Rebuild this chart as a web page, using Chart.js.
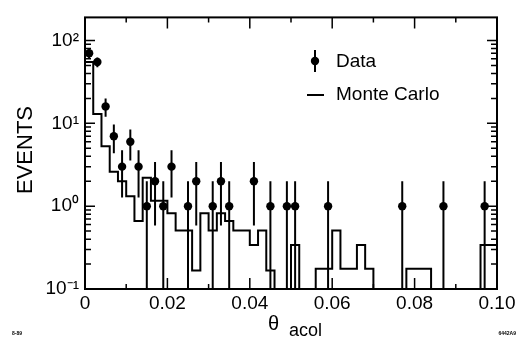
<!DOCTYPE html>
<html lang="en">
<head>
<meta charset="UTF-8" />
<title>Acollinearity distribution</title>
<script src="https://cdn.jsdelivr.net/npm/chart.js@4.4.0/dist/chart.umd.min.js"></script>
<style>
  html, body { margin: 0; padding: 0; background: #fff; }
  #wrap { width: 527px; height: 349px; }
</style>
</head>
<body>
<div id="wrap"><canvas id="acolChart" width="527" height="349"></canvas></div>
<script>
// Monte Carlo histogram: low edge of each bin and its content (0 = empty bin)
const binStart = [
  0.000, 0.002, 0.004, 0.006, 0.008, 0.010, 0.012, 0.014, 0.016, 0.018,
  0.020, 0.022, 0.024, 0.026, 0.028, 0.030, 0.032, 0.034, 0.036, 0.038,
  0.040, 0.042, 0.044, 0.046, 0.048, 0.050, 0.052, 0.054, 0.056, 0.058,
  0.060, 0.062, 0.064, 0.066, 0.068, 0.070, 0.072, 0.074, 0.076, 0.078,
  0.080, 0.082, 0.084, 0.086, 0.088, 0.090, 0.092, 0.094, 0.096, 0.098
];
const binEnd = 0.100;
const mcEvents = [
  100, 55, 13, 5.3, 2.6, 2.0, 1.32, 0.66, 2.2, 1.16,
  1.16, 0.82, 0.51, 0.51, 0.167, 0.82, 0.51, 0.82, 0.66, 0.51,
  0.51, 0.34, 0.51, 0.167, 0, 0, 0.34, 0, 0, 0.176,
  0.176, 0.51, 0.176, 0.176, 0.34, 0.176, 0, 0, 0, 0,
  0.176, 0.176, 0.176, 0, 0, 0, 0, 0, 0, 0.34
];

// Data: bin centre and number of events (error = sqrt(N))
const dataX = [
  0.001, 0.003, 0.005, 0.007, 0.009, 0.011, 0.013, 0.015, 0.017, 0.019,
  0.021, 0.025, 0.027, 0.031, 0.033, 0.035, 0.041, 0.045, 0.049, 0.051,
  0.059, 0.077, 0.087, 0.097
];
const dataN = [
  70, 55, 16, 7, 3, 6, 3, 1, 2, 1,
  3, 1, 2, 1, 2, 1, 2, 1, 1, 1,
  1, 1, 1, 1
];

const xTickValues = [0, 0.02, 0.04, 0.06, 0.08, 0.10];
const xTickLabels = ['0', '0.02', '0.04', '0.06', '0.08', '0.10'];
const yTickValues = [0.1, 1, 10, 100];
const yTickLabels = ['10\u207B\u00B9', '10\u2070', '10\u00B9', '10\u00B2'];

const FONT = '"Liberation Sans", Arial, Helvetica, sans-serif';
const OFF_SCALE = 1e-4;   // empty bins / error bars reaching zero go below the axis

const mcPoints = binStart.map((x, i) => ({ x: x, y: mcEvents[i] > 0 ? mcEvents[i] : OFF_SCALE }));
mcPoints.push({ x: binEnd, y: mcPoints[mcPoints.length - 1].y });

const dataPoints = dataX.map((x, i) => ({ x: x, y: dataN[i] }));

const errPoints = [];
dataX.forEach((x, i) => {
  const n = dataN[i];
  const e = Math.sqrt(n);
  errPoints.push({ x: x, y: n - e > 0 ? n - e : OFF_SCALE });
  errPoints.push({ x: x, y: n + e });
  errPoints.push({ x: x, y: null });
});

// frame, inward ticks, legend and axis titles
const decorations = {
  id: 'decorations',
  afterDatasetsDraw(chart) {
    const { ctx, chartArea: a, scales: { x, y } } = chart;
    ctx.save();
    ctx.strokeStyle = '#000';
    ctx.fillStyle = '#000';

    ctx.lineWidth = 2;
    ctx.strokeRect(a.left, a.top, a.right - a.left, a.bottom - a.top);

    ctx.lineWidth = 1.5;
    ctx.beginPath();
    for (let k = 1; k < 10; k++) {
      const px = x.getPixelForValue(k / 100);
      const len = k % 2 === 0 ? 11 : 5;
      ctx.moveTo(px, a.bottom); ctx.lineTo(px, a.bottom - len);
      ctx.moveTo(px, a.top); ctx.lineTo(px, a.top + len);
    }
    for (let e = -1; e <= 2; e++) {
      for (let m = 1; m <= 9; m++) {
        const v = m * Math.pow(10, e);
        if (v > y.max) continue;
        const py = y.getPixelForValue(v);
        const len = m === 1 ? 10 : 6;
        ctx.moveTo(a.left, py); ctx.lineTo(a.left + len, py);
        ctx.moveTo(a.right, py); ctx.lineTo(a.right - len, py);
      }
    }
    ctx.stroke();

    // legend
    ctx.lineWidth = 2;
    ctx.beginPath();
    ctx.moveTo(315, 50); ctx.lineTo(315, 72);
    ctx.moveTo(307, 95); ctx.lineTo(324, 95);
    ctx.stroke();
    ctx.beginPath();
    ctx.arc(315, 61, 4.2, 0, Math.PI * 2);
    ctx.fill();
    ctx.font = '19px ' + FONT;
    ctx.textBaseline = 'middle';
    ctx.textAlign = 'left';
    ctx.fillText('Data', 336, 62);
    ctx.fillText('Monte Carlo', 336, 95);

    // y title
    ctx.save();
    ctx.translate(26, 150);
    ctx.rotate(-Math.PI / 2);
    ctx.textAlign = 'center';
    ctx.font = '22px ' + FONT;
    ctx.fillText('EVENTS', 0, 0);
    ctx.restore();

    // x title: theta with subscript
    ctx.textBaseline = 'alphabetic';
    ctx.font = '20px ' + FONT;
    ctx.fillText('\u03B8', 268, 330);
    ctx.font = '18px ' + FONT;
    ctx.fillText('acol', 289, 336);

    // figure codes
    ctx.font = 'bold 5px ' + FONT;
    ctx.fillText('8-89', 12, 335);
    ctx.textAlign = 'right';
    ctx.fillText('6442A9', 516, 335);
    ctx.restore();
  }
};

const acolChart = new Chart(document.getElementById('acolChart'), {
  type: 'line',
  data: {
    datasets: [
      {
        label: 'Data',
        data: dataPoints,
        showLine: false,
        pointRadius: 4.2,
        pointBackgroundColor: '#000',
        pointBorderWidth: 0
      },
      {
        label: 'Data errors',
        data: errPoints,
        borderColor: '#000',
        borderWidth: 2,
        pointRadius: 0,
        spanGaps: false
      },
      {
        label: 'Monte Carlo',
        data: mcPoints,
        stepped: 'after',
        borderColor: '#000',
        borderWidth: 2,
        pointRadius: 0,
        fill: false
      }
    ]
  },
  options: {
    responsive: false,
    animation: false,
    devicePixelRatio: 1,
    layout: { padding: { top: 9, right: 30, left: 0, bottom: 0 } },
    plugins: { legend: { display: false }, tooltip: { enabled: false } },
    scales: {
      x: {
        type: 'linear',
        min: 0,
        max: 0.1,
        grid: { display: false, drawTicks: false },
        border: { display: false },
        afterFit(s) { s.height = 60; },
        afterBuildTicks(s) { s.ticks = xTickValues.map(v => ({ value: v })); },
        ticks: {
          padding: 3,
          color: '#000',
          maxRotation: 0,
          autoSkip: false,
          font: { family: FONT, size: 19 },
          callback: (v, i) => xTickLabels[i]
        }
      },
      y: {
        type: 'logarithmic',
        min: 0.1,
        max: 190,
        grid: { display: false, drawTicks: false },
        border: { display: false },
        afterFit(s) { s.width = 85; },
        afterBuildTicks(s) { s.ticks = yTickValues.map(v => ({ value: v })); },
        ticks: {
          padding: 6,
          color: '#000',
          autoSkip: false,
          font: { family: FONT, size: 19 },
          callback: (v, i) => yTickLabels[i]
        }
      }
    }
  },
  plugins: [decorations]
});
</script>
</body>
</html>
